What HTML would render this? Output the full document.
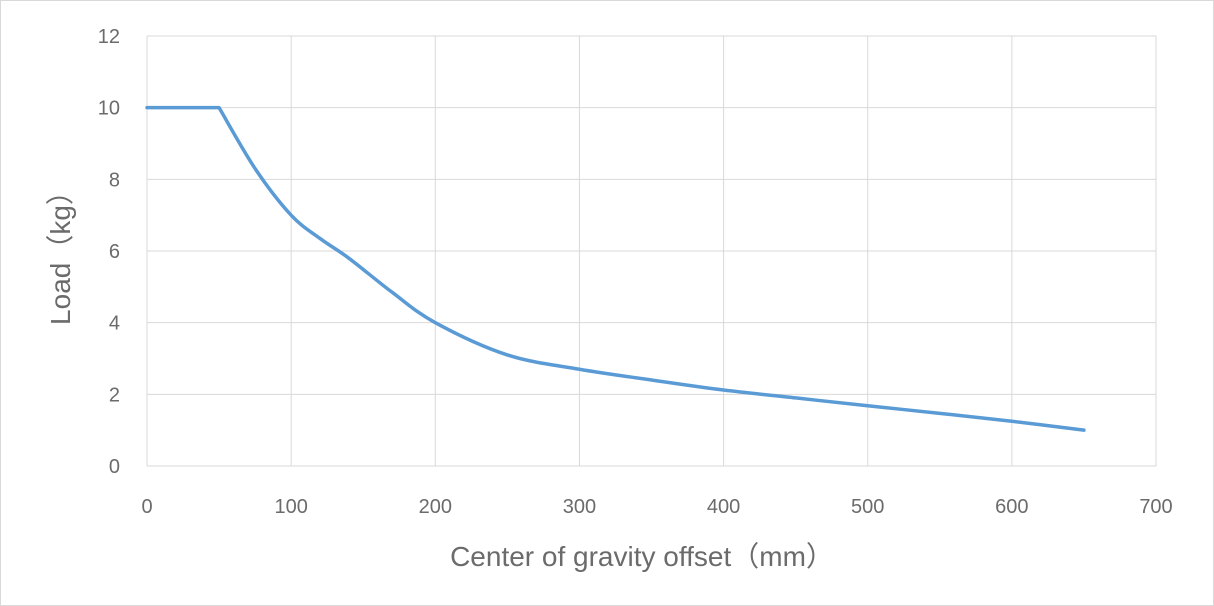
<!DOCTYPE html>
<html><head><meta charset="utf-8"><style>
body{margin:0;background:#fff;}
svg{display:block;font-family:"Liberation Sans","Noto Sans CJK SC",sans-serif;}
</style></head><body>
<svg id="chart" width="1214" height="606">
<rect x="0.5" y="0.5" width="1213" height="605" fill="#fff" stroke="#d9d9d9"/>
<g id="grid"></g><g id="ticks"></g>
<text x="642" y="566" font-size="28" fill="#6b6b6b" text-anchor="middle">Center of gravity offset（mm）</text>
<text transform="translate(70,251) rotate(-90)" font-size="28" fill="#6b6b6b" text-anchor="middle">Load（kg）</text>
</svg>
<script>
const xTicks=[0,100,200,300,400,500,600,700];
const yTicks=[0,2,4,6,8,10,12];
const offsets=[0,50,75,100,120,140,170,200,250,300,350,400,450,500,550,600,650];
const loads=[10,10,8.3,7,6.35,5.8,4.85,4.0,3.1,2.7,2.4,2.12,1.9,1.68,1.47,1.25,1.0];
const X0=147,X1=1156,Y0=466,Y1=36;
const sx=v=>X0+(v-0)/(700)*(X1-X0);
const sy=v=>Y0-(v/12)*(Y0-Y1);
const NS="http://www.w3.org/2000/svg";
const svg=document.getElementById('chart');
const grid=document.getElementById('grid'),tk=document.getElementById('ticks');
function mk(t,a,p){const e=document.createElementNS(NS,t);for(const k in a)e.setAttribute(k,a[k]);p.appendChild(e);return e;}
xTicks.forEach(v=>{
 const l=mk('line',{x1:sx(v),x2:sx(v),y1:Y1,y2:Y0,stroke:'#d9d9d9','stroke-width':1},grid);
 
 
 const t=mk('text',{x:sx(v),y:513,'font-size':20,fill:'#6b6b6b','text-anchor':'middle'},tk);
 t.textContent=v;
 
 
});
yTicks.forEach(v=>{
 const l=mk('line',{x1:X0,x2:X1,y1:sy(v),y2:sy(v),stroke:'#d9d9d9','stroke-width':1},grid);
 
 
 const t=mk('text',{x:120,y:sy(v)+7,'font-size':20,fill:'#6b6b6b','text-anchor':'end'},tk);
 t.textContent=v;
 
 
});
const pts=offsets.map((o,i)=>[sx(o),sy(loads[i])]);
let d='M'+pts[0][0]+','+pts[0][1]+' L'+pts[1][0]+','+pts[1][1];
for(let i=1;i<pts.length-1;i++){
 const p1=pts[i],p2=pts[i+1];
 const p0=i===1?p1:pts[i-1];
 const p3=pts[i+2]||p2;
 const c1=[p1[0]+(p2[0]-p0[0])/6,p1[1]+(p2[1]-p0[1])/6];
 const c2=[p2[0]-(p3[0]-p1[0])/6,p2[1]-(p3[1]-p1[1])/6];
 d+=` C${c1[0]},${c1[1]} ${c2[0]},${c2[1]} ${p2[0]},${p2[1]}`;
}
const line=mk('path',{d:d,fill:'none',stroke:'#5b9bd5','stroke-width':3.5,'stroke-linecap':'round','stroke-linejoin':'round'},svg);


</script>
</body></html>
